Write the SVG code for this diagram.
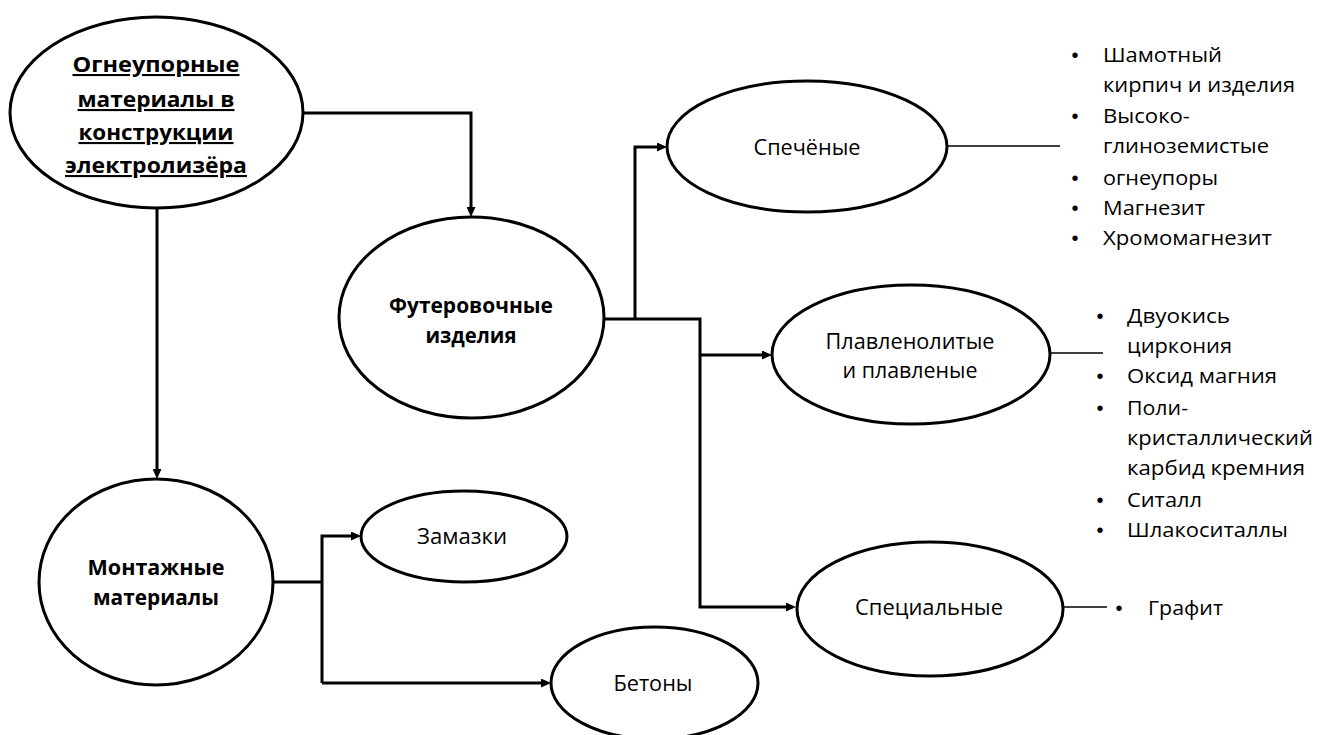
<svg xmlns="http://www.w3.org/2000/svg" width="1332" height="735" viewBox="0 0 1332 735">
<style>
  .node { fill: #ffffff; stroke: #000000; stroke-width: 3; }
  .conn { fill: none; stroke: #000000; stroke-width: 3; }
  .thin { fill: none; stroke: #000000; stroke-width: 1.6; }
  .lbl { font-family: "Open Sans", "Noto Sans", "Liberation Sans", sans-serif; font-size: 21px; fill: #000; text-anchor: middle; }
  .bold { font-weight: bold; }
  .ul { text-decoration: underline; }
  .li { font-family: "Open Sans", "Noto Sans", "Liberation Sans", sans-serif; font-size: 20px; fill: #000; }
  .bul { font-family: "Liberation Sans", sans-serif; font-size: 20px; fill: #000; text-anchor: middle; }
</style>
<defs>
  <marker id="arr" markerUnits="userSpaceOnUse" markerWidth="10" markerHeight="9" refX="1" refY="4.5" orient="auto">
    <path d="M0,0 L10,4.5 L0,9 z" fill="#000"/>
  </marker>
</defs>
<rect width="1332" height="735" fill="#ffffff"/>

<g id="connectors">
  <path class="conn" d="M303,113 H471 V208" marker-end="url(#arr)"/>
  <path class="conn" d="M157,208 V470" marker-end="url(#arr)"/>
  <path class="conn" d="M604,319 H700 V607 H787" marker-end="url(#arr)"/>
  <path class="conn" d="M635,319 V147 H658" marker-end="url(#arr)"/>
  <path class="conn" d="M700,355 H763" marker-end="url(#arr)"/>
  <path class="conn" d="M273,582 H322"/>
  <path class="conn" d="M322,683 V536 H352" marker-end="url(#arr)"/>
  <path class="conn" d="M322,683 H542" marker-end="url(#arr)"/>
  <path class="thin" d="M947,146 H1060"/>
  <path class="thin" d="M1050,353 H1103"/>
  <path class="thin" d="M1063,607 H1107"/>
</g>

<g id="node-ogneupornye">
  <ellipse class="node" cx="156.5" cy="112.5" rx="146.5" ry="95.5"/>
  <text class="lbl bold ul" x="156" y="72" textLength="167" lengthAdjust="spacingAndGlyphs">Огнеупорные</text>
  <text class="lbl bold ul" x="156" y="107" textLength="157" lengthAdjust="spacingAndGlyphs">материалы в</text>
  <text class="lbl bold ul" x="156" y="140" textLength="155" lengthAdjust="spacingAndGlyphs">конструкции</text>
  <text class="lbl bold ul" x="156" y="173" textLength="182" lengthAdjust="spacingAndGlyphs">электролизёра</text>
</g>

<g id="node-futerovochnye">
  <ellipse class="node" cx="471.5" cy="317.5" rx="132.5" ry="100.5"/>
  <text class="lbl bold" x="471" y="313" textLength="164" lengthAdjust="spacingAndGlyphs">Футеровочные</text>
  <text class="lbl bold" x="471" y="343" textLength="91" lengthAdjust="spacingAndGlyphs">изделия</text>
</g>

<g id="node-montazhnye">
  <ellipse class="node" cx="156" cy="582" rx="117" ry="103"/>
  <text class="lbl bold" x="156" y="575" textLength="137" lengthAdjust="spacingAndGlyphs">Монтажные</text>
  <text class="lbl bold" x="156" y="605" textLength="126" lengthAdjust="spacingAndGlyphs">материалы</text>
</g>

<g id="node-spechenye">
  <ellipse class="node" cx="807" cy="146.5" rx="140" ry="65.5"/>
  <text class="lbl" x="807" y="155" textLength="107" lengthAdjust="spacingAndGlyphs">Спечёные</text>
</g>

<g id="node-plavlenolitye">
  <ellipse class="node" cx="911" cy="354.5" rx="139" ry="69.5"/>
  <text class="lbl" x="910" y="349" textLength="169" lengthAdjust="spacingAndGlyphs">Плавленолитые</text>
  <text class="lbl" x="910" y="378" textLength="135" lengthAdjust="spacingAndGlyphs">и плавленые</text>
</g>

<g id="node-specialnye">
  <ellipse class="node" cx="930" cy="609" rx="133" ry="67"/>
  <text class="lbl" x="929" y="615" textLength="148" lengthAdjust="spacingAndGlyphs">Специальные</text>
</g>

<g id="node-zamazki">
  <ellipse class="node" cx="464" cy="536.5" rx="103" ry="45.5"/>
  <text class="lbl" x="462" y="544" textLength="90" lengthAdjust="spacingAndGlyphs">Замазки</text>
</g>

<g id="node-betony">
  <ellipse class="node" cx="654.5" cy="683" rx="103.5" ry="56"/>
  <text class="lbl" x="653" y="691" textLength="79" lengthAdjust="spacingAndGlyphs">Бетоны</text>
</g>

<g id="list-spechenye">
  <text class="bul" x="1075" y="62">•</text>
  <text class="li" x="1103" y="62" textLength="119" lengthAdjust="spacingAndGlyphs">Шамотный</text>
  <text class="li" x="1103" y="92" textLength="192" lengthAdjust="spacingAndGlyphs">кирпич и изделия</text>
  <text class="bul" x="1075" y="123">•</text>
  <text class="li" x="1103" y="123" textLength="87" lengthAdjust="spacingAndGlyphs">Высоко-</text>
  <text class="li" x="1103" y="153" textLength="166" lengthAdjust="spacingAndGlyphs">глиноземистые</text>
  <text class="bul" x="1075" y="185">•</text>
  <text class="li" x="1103" y="185" textLength="115" lengthAdjust="spacingAndGlyphs">огнеупоры</text>
  <text class="bul" x="1075" y="215">•</text>
  <text class="li" x="1103" y="215" textLength="102" lengthAdjust="spacingAndGlyphs">Магнезит</text>
  <text class="bul" x="1075" y="245">•</text>
  <text class="li" x="1103" y="245" textLength="169" lengthAdjust="spacingAndGlyphs">Хромомагнезит</text>
</g>

<g id="list-plavlenolitye">
  <text class="bul" x="1100" y="323">•</text>
  <text class="li" x="1127" y="323" textLength="103" lengthAdjust="spacingAndGlyphs">Двуокись</text>
  <text class="li" x="1127" y="353" textLength="105" lengthAdjust="spacingAndGlyphs">циркония</text>
  <text class="bul" x="1100" y="383">•</text>
  <text class="li" x="1127" y="383" textLength="150" lengthAdjust="spacingAndGlyphs">Оксид магния</text>
  <text class="bul" x="1100" y="415">•</text>
  <text class="li" x="1127" y="415" textLength="61" lengthAdjust="spacingAndGlyphs">Поли-</text>
  <text class="li" x="1127" y="445" textLength="186" lengthAdjust="spacingAndGlyphs">кристаллический</text>
  <text class="li" x="1127" y="475" textLength="178" lengthAdjust="spacingAndGlyphs">карбид кремния</text>
  <text class="bul" x="1100" y="507">•</text>
  <text class="li" x="1127" y="507" textLength="75" lengthAdjust="spacingAndGlyphs">Ситалл</text>
  <text class="bul" x="1100" y="537">•</text>
  <text class="li" x="1127" y="537" textLength="161" lengthAdjust="spacingAndGlyphs">Шлакоситаллы</text>
</g>

<g id="list-specialnye">
  <text class="bul" x="1119" y="615">•</text>
  <text class="li" x="1148" y="615" textLength="75" lengthAdjust="spacingAndGlyphs">Графит</text>
</g>
</svg>
